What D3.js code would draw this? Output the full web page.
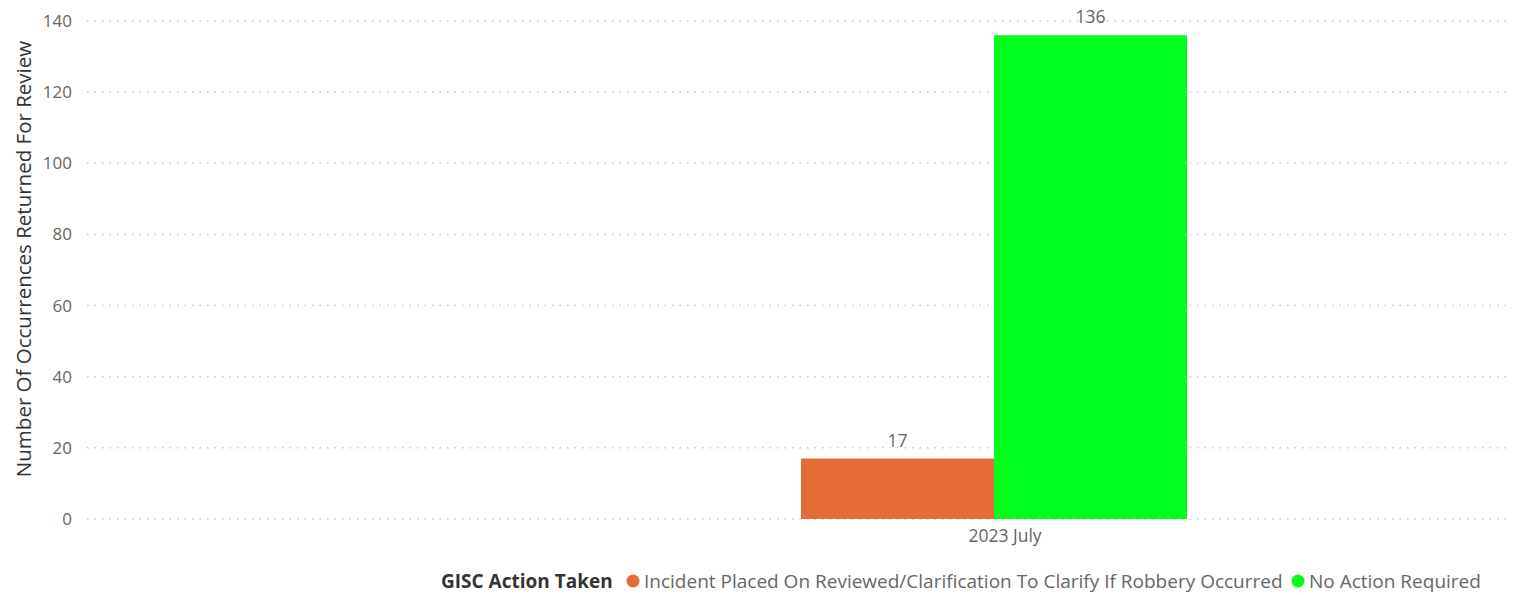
<!DOCTYPE html>
<html>
<head>
<meta charset="utf-8">
<script src="https://cdn.jsdelivr.net/npm/d3@7/dist/d3.min.js"></script>
<style>
  html, body { margin: 0; padding: 0; background: #fff; }
  svg { display: block; font-family: "Open Sans", "Noto Sans", sans-serif; }
</style>
</head>
<body>
<svg id="chart" width="1515" height="595"></svg>
<script>
const categories = ["2023 July"];
const seriesNames = ["Incident Placed On Reviewed/Clarification To Clarify If Robbery Occurred", "No Action Required"];
const seriesColors = ["#E66C37", "#00FF1A"];
const incidentValues = [17];
const noActionValues = [136];
const yTicks = [0, 20, 40, 60, 80, 100, 120, 140];
const yTitle = "Number Of Occurrences Returned For Review";
const legendTitle = "GISC Action Taken";

const svg = d3.select("#chart");
const plotLeft = 85, plotRight = 1512, plotTop = 21, plotBottom = 519;

const y = d3.scaleLinear().domain([0, 140]).range([plotBottom, plotTop]);
const x = d3.scaleBand().domain(categories).range([801, 1187]).padding(0);
const xSub = d3.scaleBand().domain(seriesNames).range([0, x.bandwidth()]).padding(0);

// gridlines
svg.append("g").selectAll("line").data(yTicks).join("line")
  .attr("x1", plotLeft + 2).attr("x2", plotRight)
  .attr("y1", d => y(d)).attr("y2", d => y(d))
  .attr("stroke", "#c8c8c8").attr("stroke-width", 1.5)
  .attr("stroke-dasharray", "1.5,6");

// y axis
const yAxis = d3.axisLeft(y).tickValues(yTicks).tickSize(0).tickPadding(0);
const gy = svg.append("g").attr("transform", `translate(72,0)`).call(yAxis);
gy.select(".domain").remove();
gy.selectAll("text").attr("fill", "#666").style("font-size", "17px")
  .style("font-family", "'Open Sans', sans-serif");

// x axis
const xAxis = d3.axisBottom(x).tickSize(0).tickPadding(0);
const gx = svg.append("g").attr("transform", `translate(11,${plotBottom + 11})`).call(xAxis);
gx.select(".domain").remove();
gx.selectAll("text").attr("fill", "#666").style("font-size", "17.5px")
  .style("font-family", "'Open Sans', sans-serif");

// bars
const rows = categories.map((c, i) => ({ cat: c, vals: [incidentValues[i], noActionValues[i]] }));
const groups = svg.append("g").selectAll("g").data(rows).join("g")
  .attr("transform", d => `translate(${x(d.cat)},0)`);
groups.selectAll("rect").data(d => d.vals.map((v, k) => ({ v, k })))
  .join("rect")
  .attr("x", d => xSub(seriesNames[d.k]))
  .attr("width", xSub.bandwidth())
  .attr("y", d => y(d.v))
  .attr("height", d => y(0) - y(d.v))
  .attr("fill", d => seriesColors[d.k]);
groups.selectAll("text").data(d => d.vals.map((v, k) => ({ v, k })))
  .join("text")
  .attr("x", d => xSub(seriesNames[d.k]) + xSub.bandwidth() / 2)
  .attr("y", d => y(d.v) - 12)
  .attr("text-anchor", "middle")
  .attr("fill", "#666").style("font-size", "17.5px")
  .text(d => d.v);

// y title
svg.append("text")
  .attr("transform", `translate(31,${(40 + 478) / 2}) rotate(-90)`)
  .attr("text-anchor", "middle")
  .attr("fill", "#333").style("font-size", "20.5px")
  .text(yTitle);

// legend
const leg = svg.append("g").attr("transform", "translate(0,588)");
leg.append("text").attr("x", 441).attr("y", 0)
  .attr("fill", "#333").style("font-size", "19px").style("font-weight", "bold")
  .text(legendTitle);
const legX = [633, 1298];
seriesNames.forEach((n, k) => {
  leg.append("circle").attr("cx", legX[k]).attr("cy", -7).attr("r", 6.5).attr("fill", seriesColors[k]);
  leg.append("text").attr("x", legX[k] + 11).attr("y", 0)
    .attr("fill", "#666").style("font-size", "19px").text(n);
});
</script>
</body>
</html>
